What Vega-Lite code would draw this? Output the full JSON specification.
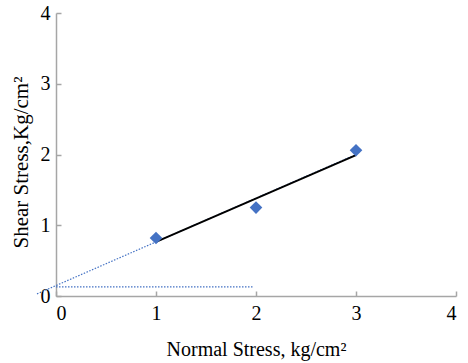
{
  "$schema": "https://vega.github.io/schema/vega-lite/v6.json",
  "autosize": "none",
  "width": 400,
  "height": 283,
  "padding": {"left": 56, "top": 13, "right": 12, "bottom": 67},
  "background": "white",
  "config": {
    "view": {"stroke": null},
    "font": "Liberation Serif",
    "text": {"font": "Liberation Serif"},
    "axis": {
      "grid": false,
      "domainColor": "#A6A6A6",
      "domainWidth": 1.5,
      "tickColor": "#A6A6A6",
      "tickWidth": 1.5,
      "tickSize": -5,
      "labelFont": "Liberation Serif",
      "labelFontSize": 20,
      "labelColor": "#000000",
      "titleFont": "Liberation Serif",
      "titleFontSize": 20,
      "titleFontWeight": "normal",
      "titleColor": "#000000"
    }
  },
  "datasets": {
    "points": [
      {"normal": 1, "shear": 0.82},
      {"normal": 2, "shear": 1.25},
      {"normal": 3, "shear": 2.06}
    ],
    "fit": [
      {"normal": 1, "shear": 0.765},
      {"normal": 3, "shear": 1.99}
    ],
    "extension": [
      {"normal": -0.19, "shear": 0.03},
      {"normal": 3, "shear": 2.0}
    ],
    "intercept": [
      {"normal": 0, "shear": 0.13},
      {"normal": 1.97, "shear": 0.13}
    ]
  },
  "encoding": {
    "x": {
      "field": "normal",
      "type": "quantitative",
      "scale": {"domain": [0, 4], "nice": false, "zero": false},
      "axis": {
        "values": [0, 1, 2, 3, 4],
        "format": "d",
        "title": "Normal Stress, kg/cm²",
        "labelFont": "Liberation Serif",
        "labelPadding": 12,
        "titleFontSize": 20,
        "titleBaseline": "alphabetic",
        "titleY": 59
      }
    },
    "y": {
      "field": "shear",
      "type": "quantitative",
      "scale": {"domain": [0, 4], "nice": false, "zero": false},
      "axis": {
        "values": [0, 1, 2, 3, 4],
        "format": "d",
        "title": "Shear Stress,Kg/cm²",
        "labelFont": "Liberation Serif",
        "labelPadding": 11,
        "titleFontSize": 21,
        "titleAngle": -90,
        "titleBaseline": "alphabetic",
        "titleX": -29,
        "titleY": 149
      }
    }
  },
  "layer": [
    {
      "data": {"name": "extension"},
      "mark": {"type": "line", "color": "#4472C4", "strokeWidth": 1.2, "strokeDash": [1.5, 1.5], "clip": false}
    },
    {
      "data": {"name": "intercept"},
      "mark": {"type": "line", "color": "#4472C4", "strokeWidth": 1.2, "strokeDash": [1.5, 1.5]}
    },
    {
      "data": {"name": "fit"},
      "mark": {"type": "line", "color": "#000000", "strokeWidth": 2}
    },
    {
      "data": {"name": "points"},
      "mark": {"type": "point", "shape": "diamond", "filled": true, "color": "#4472C4", "size": 160, "opacity": 1}
    }
  ]
}
